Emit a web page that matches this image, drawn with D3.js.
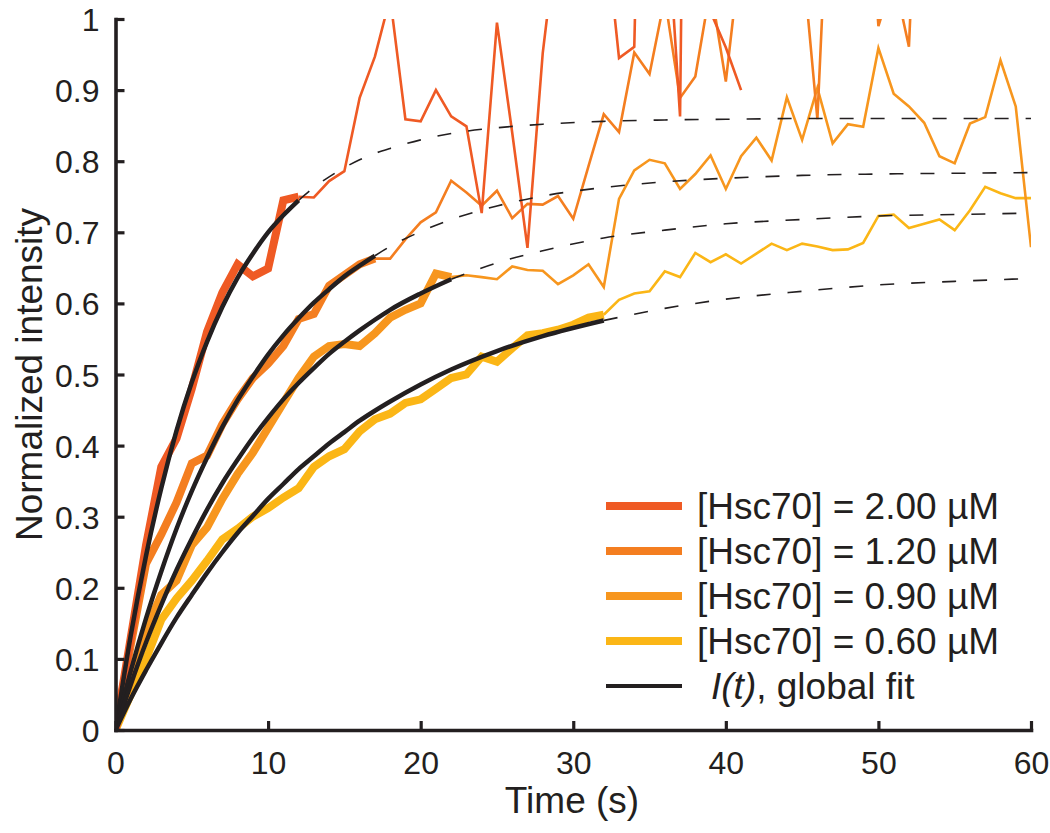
<!DOCTYPE html>
<html><head><meta charset="utf-8">
<script src="https://cdn.jsdelivr.net/npm/d3@7/dist/d3.min.js"></script>
<style>
body{margin:0;background:#fff}
svg{display:block}
text{font-family:"Liberation Sans", Arial, Helvetica, sans-serif; fill:#231f20}
</style>
</head><body>
<svg id="chart" width="1050" height="833"></svg>
<script>
// ---------------- data ----------------
const time = [0,1,2,3,4,5,6,7,8,9,10,11,12,13,14,15,16,17,18,19,20,21,22,23,24,25,26,27,28,29,30,
  31,32,33,34,35,36,37,38,39,40,41,42,43,44,45,46,47,48,49,50,51,52,53,54,55,56,57,58,59,60];

// measured normalized intensity, one value per second
const hsc200 = [0,0.13,0.26,0.37,0.41,0.48,0.56,0.615,0.655,0.638,0.649,0.745,0.75,0.749,0.772,0.786,
  0.889,0.947,1.03,0.859,0.856,0.90,0.863,0.849,0.727,0.995,0.84,0.678,0.952,1.13,1.3,1.25,1.15,0.945,
  0.961,1.9,1.2,0.863,2.8,1.01,0.96,0.90];
const hsc120 = [0,0.12,0.234,0.275,0.32,0.375,0.386,0.43,0.465,0.495,0.515,0.54,0.578,0.585,0.625,0.64,
  0.655,0.663,0.663,0.69,0.714,0.728,0.7725,0.756,0.7375,0.7585,0.720,0.740,0.739,0.751,0.719,0.793,
  0.866,0.841,0.953,0.9225,1.03,0.889,0.919,1.045,0.912,1.1,1.25,1.3,1.2,1.093,0.859,1.33,1.25,1.3,
  0.99,1.06,0.961,1.45,1.3,1.2,1.3,1.25,1.3,1.2,1.3];
const hsc090 = [0,0.07,0.14,0.19,0.21,0.26,0.285,0.325,0.36,0.39,0.425,0.46,0.495,0.525,0.54,0.543,
  0.54,0.558,0.58,0.591,0.60,0.642,0.637,0.6395,0.637,0.634,0.652,0.647,0.646,0.627,0.6395,0.655,
  0.623,0.747,0.787,0.802,0.797,0.761,0.782,0.808,0.761,0.807,0.833,0.801,0.890,0.830,0.903,0.825,
  0.852,0.8485,0.959,0.895,0.877,0.854,0.807,0.797,0.853,0.862,0.942,0.877,0.679];
const hsc060 = [0,0.05,0.10,0.155,0.185,0.21,0.238,0.268,0.283,0.30,0.312,0.327,0.34,0.37,0.385,0.395,
  0.42,0.437,0.445,0.46,0.465,0.48,0.495,0.50,0.525,0.518,0.537,0.555,0.558,0.563,0.57,0.58,0.584,
  0.605,0.614,0.617,0.645,0.637,0.671,0.658,0.669,0.656,0.670,0.684,0.675,0.684,0.680,0.675,0.676,
  0.685,0.723,0.725,0.706,0.712,0.718,0.703,0.731,0.764,0.755,0.748,0.748];

// global fit I(t), read at these times
const fitTime = [0,1,2,3,4,5,6,7,8,9,10,11,12,13,14,15,16,17,18,20,22,25,28,32,36,40,45,50,55,60];
const fit200 = [0,0.133,0.245,0.340,0.421,0.489,0.546,0.595,0.636,0.670,0.700,0.724,0.745,0.763,0.778,
  0.791,0.802,0.811,0.818,0.830,0.839,0.847,0.852,0.856,0.858,0.859,0.860,0.860,0.860,0.860];
const fit120 = [0,0.083,0.157,0.223,0.283,0.336,0.383,0.426,0.464,0.497,0.528,0.555,0.579,0.601,0.620,
  0.638,0.653,0.667,0.680,0.701,0.718,0.737,0.751,0.763,0.771,0.776,0.780,0.782,0.783,0.784];
const fit090 = [0,0.064,0.123,0.176,0.225,0.269,0.310,0.347,0.380,0.411,0.439,0.465,0.488,0.509,0.529,
  0.546,0.562,0.577,0.591,0.614,0.634,0.657,0.674,0.692,0.703,0.712,0.718,0.723,0.725,0.727];
const fit060 = [0,0.044,0.084,0.122,0.158,0.190,0.221,0.250,0.277,0.301,0.325,0.346,0.367,0.385,0.403,
  0.419,0.435,0.449,0.462,0.486,0.507,0.533,0.554,0.576,0.593,0.606,0.617,0.626,0.631,0.635];

// time (s) up to which each series was fitted
const fitEnd = [12, 17, 22, 32];

const seriesLabels = ["[Hsc70] = 2.00 \u00B5M","[Hsc70] = 1.20 \u00B5M","[Hsc70] = 0.90 \u00B5M","[Hsc70] = 0.60 \u00B5M"];
const fitLabel = ["I(t)", ", global fit"];
const xTicks = [0,10,20,30,40,50,60];
const xTickLabels = ["0","10","20","30","40","50","60"];
const yTicks = [0,0.1,0.2,0.3,0.4,0.5,0.6,0.7,0.8,0.9,1];
const yTickLabels = ["0","0.1","0.2","0.3","0.4","0.5","0.6","0.7","0.8","0.9","1"];

// ---------------- styles ----------------
const colors = ["#EF5A24","#F47E20","#F7961E","#FBB616"];
const ink = "#231f20";

// ---------------- drawing ----------------
const svg = d3.select("#chart");
const x = d3.scaleLinear().domain([0,60]).range([115.5,1031]);
const y = d3.scaleLinear().domain([0,1]).range([730,19]);

const defs = svg.append("defs");
defs.append("clipPath").attr("id","plotclip").append("rect")
  .attr("x", x(0)).attr("y", y(1)).attr("width", x(60)-x(0)).attr("height", y(0)-y(1));

const seriesValues = [hsc200, hsc120, hsc090, hsc060];
const fitValues = [fit200, fit120, fit090, fit060];

const series = seriesValues.map((vals,i)=>({
  pts: vals.map((v,k)=>({t: time[k], v})),
  fit: fitValues[i].map((v,k)=>({t: fitTime[k], v})),
  end: fitEnd[i],
  color: colors[i]
}));

const line = d3.line().x(d=>x(d.t)).y(d=>y(d.v));
const smooth = d3.line().x(d=>x(d.t)).y(d=>y(d.v)).curve(d3.curveMonotoneX);

const plot = svg.append("g").attr("clip-path","url(#plotclip)");

// thin data beyond fitted range
[...series].reverse().forEach(s=>{
  plot.append("path").datum(s.pts.filter(p=>p.t>=s.end))
    .attr("d", line).attr("fill","none").attr("stroke", s.color)
    .attr("stroke-width",2.6).attr("stroke-linejoin","miter");
});
// dashed fit extrapolation
series.forEach(s=>{
  plot.append("path").datum(s.fit.filter(p=>p.t>=s.end))
    .attr("d", smooth).attr("fill","none").attr("stroke", ink)
    .attr("stroke-width",1.6).attr("stroke-dasharray","14,17");
});
// thick fitted data
[...series].reverse().forEach(s=>{
  plot.append("path").datum(s.pts.filter(p=>p.t<=s.end))
    .attr("d", line).attr("fill","none").attr("stroke", s.color)
    .attr("stroke-width",8).attr("stroke-linejoin","miter");
});
// solid fit
series.forEach(s=>{
  plot.append("path").datum(s.fit.filter(p=>p.t<=s.end))
    .attr("d", smooth).attr("fill","none").attr("stroke", ink)
    .attr("stroke-width",4.5).attr("stroke-linecap","butt");
});

// axes
const xAxis = d3.axisBottom(x).tickValues(xTicks).tickFormat((d,i)=>xTickLabels[i])
  .tickSizeInner(-9).tickSizeOuter(0).tickPadding(21);
const yAxis = d3.axisLeft(y).tickValues(yTicks).tickFormat((d,i)=>yTickLabels[i])
  .tickSizeInner(-9).tickSizeOuter(0).tickPadding(16);

const gx = svg.append("g").attr("transform",`translate(0,${y(0)})`).call(xAxis);
const gy = svg.append("g").attr("transform",`translate(${x(0)},0)`).call(yAxis);
[gx,gy].forEach(g=>{
  g.select(".domain").attr("stroke",ink).attr("stroke-width",3.6).attr("stroke-linecap","square");
  g.selectAll(".tick line").attr("stroke",ink).attr("stroke-width",3.2);
  g.selectAll(".tick text").attr("font-size",32).attr("fill",ink)
    .attr("font-family",'"Liberation Sans", Arial, sans-serif');
});
gy.selectAll(".tick text").attr("dy","0.36em");
gx.selectAll(".tick text").attr("dy","0.72em");

svg.append("text").attr("x",572).attr("y",813).attr("text-anchor","middle")
  .attr("font-size",37).text("Time (s)");
svg.append("text").attr("transform",`translate(42,${(y(0)+y(1))/2}) rotate(-90)`)
  .attr("text-anchor","middle").attr("font-size",37).text("Normalized intensity");

// legend
const legY = [506,551,596,641,686];
const leg = svg.append("g");
series.forEach((s,i)=>{
  leg.append("line").attr("x1",606).attr("x2",682).attr("y1",legY[i]).attr("y2",legY[i])
    .attr("stroke",s.color).attr("stroke-width",8);
  leg.append("text").attr("x",697).attr("y",legY[i]+13).attr("font-size",37).text(seriesLabels[i]);
});
leg.append("line").attr("x1",606).attr("x2",682).attr("y1",legY[4]).attr("y2",legY[4])
  .attr("stroke",ink).attr("stroke-width",4);
const ft = leg.append("text").attr("x",711).attr("y",legY[4]+13).attr("font-size",37);
ft.append("tspan").attr("font-style","italic").text(fitLabel[0]);
ft.append("tspan").text(fitLabel[1]);
</script>
</body></html>
